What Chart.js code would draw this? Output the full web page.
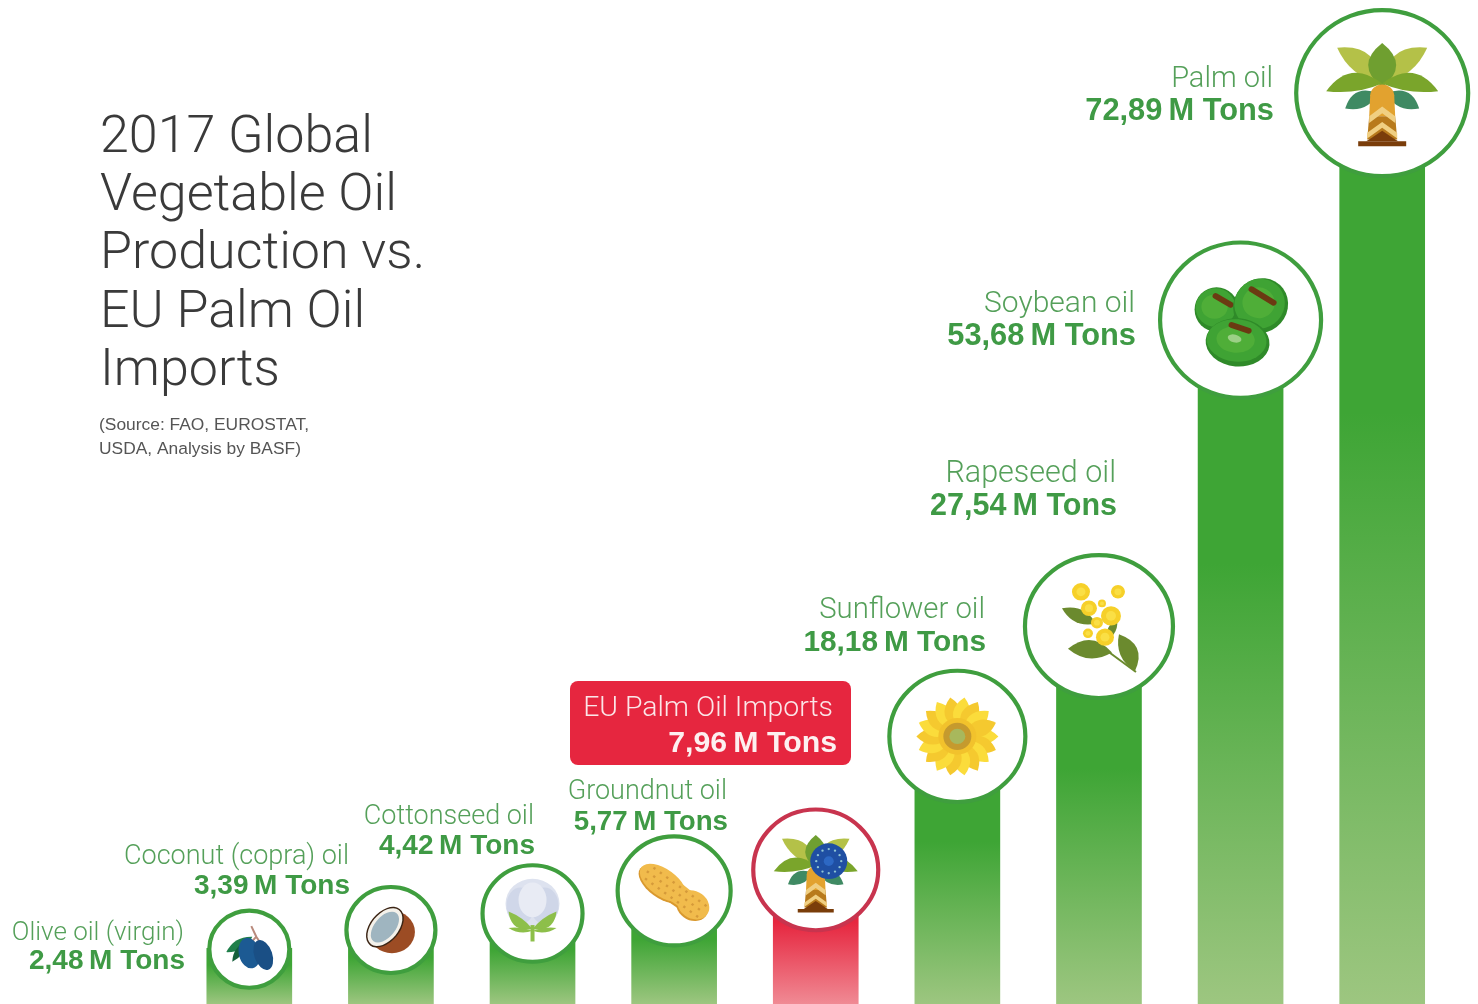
<!DOCTYPE html>
<html lang="en">
  <head>
    <meta charset="UTF-8">
    <title>2017 Global Vegetable Oil Production vs. EU Palm Oil Imports</title>
    <script src="https://cdn.jsdelivr.net/npm/chart.js"></script>
    <style>
      html, body { margin: 0; background: #fff; }
      canvas { display: block; }
    </style>
  </head>
  <body>
  <canvas id="chart" width="1478" height="1004"></canvas>
    <script>
    const categories = ['Olive oil (virgin)', 'Coconut (copra) oil', 'Cottonseed oil', 'Groundnut oil',
      'EU Palm Oil Imports', 'Sunflower oil', 'Rapeseed oil', 'Soybean oil', 'Palm oil'];
    const tons = [2.48, 3.39, 4.42, 5.77, 7.96, 18.18, 27.54, 53.68, 72.89];
    const titleLines = ['2017 Global', 'Vegetable Oil', 'Production vs.', 'EU Palm Oil', 'Imports'];
    const sourceLines = ['(Source: FAO, EUROSTAT,', 'USDA, Analysis by BASF)'];

    // badge layout, one entry per bar
    const badgeRadius = [40, 44.5, 50, 56.5, 62.5, 68, 74, 80.5, 86];
    const badgeLift = [-1, 8, 13, 20.5, 17, 36, 41, 54.6, 66.5];
    const labelRight = [184, 349, 534, 727, 833, 985, 1116, 1135, 1273];
    const labelBase = [940, 864, 824, 799, 716, 618, 482, 312, 87];
    const valueDrop = [29, 30, 30, 31, 36, 33, 33, 33, 33];
    const nameSize = [26, 27, 27, 27, 28.4, 29.3, 30.5, 30, 29];
    const valueSize = [28, 28, 28, 27.7, 30.3, 29.8, 30.5, 30.8, 30.8];
    const EU = 4;

    const formatTons = v => v.toFixed(2).replace('.', ',') + '\u2009M Tons';

    function ell(ctx, x, y, rx, ry, rot, fill) {
      ctx.beginPath();
      ctx.ellipse(x, y, rx, ry, (rot || 0) * Math.PI / 180, 0, Math.PI * 2);
      ctx.fillStyle = fill;
      ctx.fill();
    }
    function poly(ctx, fill, pts) {
      ctx.beginPath();
      pts.forEach((p, i) => i ? ctx.lineTo(p[0], p[1]) : ctx.moveTo(p[0], p[1]));
      ctx.closePath();
      ctx.fillStyle = fill;
      ctx.fill();
    }
    // pointed leaf between two points, w1 and w2 pull each edge outwards
    function leaf(ctx, x0, y0, x1, y1, w1, w2, fill) {
      const dx = x1 - x0, dy = y1 - y0, len = Math.hypot(dx, dy);
      const nx = -dy / len, ny = dx / len, mx = (x0 + x1) / 2, my = (y0 + y1) / 2;
      ctx.beginPath();
      ctx.moveTo(x0, y0);
      ctx.quadraticCurveTo(mx + nx * w1, my + ny * w1, x1, y1);
      ctx.quadraticCurveTo(mx - nx * w2, my - ny * w2, x0, y0);
      ctx.fillStyle = fill;
      ctx.fill();
    }

    function palmTree(ctx) {
      leaf(ctx, -2, -10, -45, -47, 30, 14, '#b4c148');
      leaf(ctx, 2, -10, 45, -47, -30, -14, '#b4c148');
      leaf(ctx, -4, 0, -37, 16, 20, 14, '#3f8a63');
      leaf(ctx, 4, 0, 37, 16, 14, 20, '#3f8a63');
      leaf(ctx, 0, -6, 0, -52, 28, 28, '#6f9f30');
      leaf(ctx, 0, -10, -56, -2, 30, 8, '#7aa52b');
      leaf(ctx, 0, -10, 56, -2, -30, -8, '#7aa52b');
      poly(ctx, '#e2a22f', [[-12, 2], [12, 2], [13, 24], [-13, 24]]);
      ctx.beginPath();
      ctx.arc(0, 3, 12, Math.PI, 0);
      ctx.fill();
      poly(ctx, '#b87a1c', [[-13, 24], [13, 24], [15, 48], [-15, 48]]);
      poly(ctx, '#f0cf82', [[-13, 24], [0, 14], [13, 24], [13, 31], [0, 21], [-13, 31]]);
      poly(ctx, '#f0cf82', [[-15, 41], [0, 30], [15, 41], [15, 47], [0, 36], [-15, 47]]);
      poly(ctx, '#7a3d0a', [[-10, 46], [0, 39], [10, 46], [16, 50], [-16, 50]]);
      poly(ctx, '#7a3d0a', [[-24, 50], [24, 50], [24, 55], [-24, 55]]);
    }

    const icons = [
      // olives
      ctx => {
        ctx.strokeStyle = '#b98a7c';
        ctx.lineWidth = 2;
        ctx.beginPath();
        ctx.moveTo(2, -24);
        ctx.lineTo(7, -13);
        ctx.lineTo(14, -2);
        ctx.moveTo(7, -13);
        ctx.lineTo(1, -6);
        ctx.stroke();
        leaf(ctx, 3, -13, -23, 3, 10, 10, '#1f7f4a');
        leaf(ctx, -3, -8, -17, 13, 8, 7, '#155f3a');
        ell(ctx, 0, 4, 10.5, 16, -12, '#1c5a93');
        ell(ctx, 14, 6, 9, 16, -18, '#1a4f85');
      },
      // coconut
      ctx => {
        ell(ctx, 1, 2, 23, 22, 0, '#9c4c24');
        ctx.save();
        ctx.translate(-6, -3);
        ctx.rotate(-52 * Math.PI / 180);
        ell(ctx, 0, 0, 24, 15, 0, '#3b2414');
        ell(ctx, 0, 0, 22.5, 13.5, 0, '#f4f1ea');
        ell(ctx, 0, 0, 18.5, 10.5, 0, '#9fb5c0');
        ctx.restore();
      },
      // cotton boll
      ctx => {
        ell(ctx, 0, -10, 27, 26, 0, '#dde2ef');
        ell(ctx, -12, -8, 14, 19, 0, '#d0d7e9');
        ell(ctx, 12, -8, 14, 19, 0, '#cfd6e8');
        ell(ctx, 0, -14, 14, 18, 0, '#e8ebf4');
        leaf(ctx, 0, 16, -24, -2, 4, 16, '#8dbf4a');
        leaf(ctx, 0, 16, 24, -2, 16, 4, '#8dbf4a');
        leaf(ctx, 0, 18, -24, 15, 3, 6, '#8dbf4a');
        leaf(ctx, 0, 18, 24, 15, 6, 3, '#8dbf4a');
        poly(ctx, '#8dbf4a', [[-2, 12], [2, 12], [2, 29], [-2, 29]]);
      },
      // peanut
      ctx => {
        ctx.save();
        ctx.rotate(37 * Math.PI / 180);
        for (const [off, fill] of [[2, '#d9992f'], [0, '#f1bb4c']]) {
          ell(ctx, -14, off, 27, 14, 0, fill);
          ell(ctx, 24, off, 17, 14, 0, fill);
          poly(ctx, fill, [[-10, off - 11], [16, off - 10], [16, off + 10], [-10, off + 11]]);
        }
        ctx.fillStyle = '#d59a3a';
        for (let x = -34; x <= 34; x += 8) {
          for (let y = -7; y <= 7; y += 7) {
            ctx.fillRect(x + (y % 2 ? 3 : 0), y - 1, 2.4, 2.4);
          }
        }
        ctx.restore();
      },
      // palm tree with the EU disc over it
      ctx => {
        ctx.save();
        ctx.translate(0, 3);
        ctx.scale(0.75, 0.75);
        palmTree(ctx);
        ctx.restore();
        ell(ctx, 13, -9, 18.5, 18.5, 0, '#1f4fa3');
        ell(ctx, 13, -9, 5, 5, 0, '#2d68c4');
        for (let i = 0; i < 12; i++) {
          const a = i * Math.PI / 6;
          ell(ctx, 13 + Math.cos(a) * 12.5, -9 + Math.sin(a) * 12.5, 1.2, 1.2, 0, '#8fc4d4');
        }
      },
      // sunflower
      ctx => {
        for (let i = 0; i < 18; i++) {
          ctx.save();
          ctx.rotate(i * 20 * Math.PI / 180);
          leaf(ctx, 8, 0, 41, 0, 17, 17, i % 2 ? '#f5c92f' : '#fbdc3b');
          ctx.restore();
        }
        ell(ctx, 0, 0, 19, 19, 0, '#f2c22c');
        ell(ctx, 0, 0, 14, 14, 0, '#c59a2e');
        ell(ctx, 0, 0, 8, 8, 0, '#a8b85c');
      },
      // rapeseed sprig
      ctx => {
        ctx.strokeStyle = '#6b8a2e';
        ctx.lineWidth = 2;
        ctx.beginPath();
        ctx.moveTo(4, 22);
        ctx.lineTo(37, 47);
        ctx.stroke();
        leaf(ctx, -37, -19, -3, -3, 14, 14, '#6b8a2e');
        leaf(ctx, -31, 23, 13, 27, 16, 22, '#6b8a2e');
        leaf(ctx, 20, 8, 36, 46, 14, 22, '#6b8a2e');
        leaf(ctx, 18, -8, 8, 14, 8, 8, '#6b8a2e');
        for (const [x, y, r] of [[-18, -36, 9], [19, -36, 7], [-10, -19, 8], [3, -24, 4],
            [12, -11, 10], [-2, -4, 6], [6, 11, 9], [-11, 7, 5]]) {
          ell(ctx, x, y, r, r, 0, '#f6d029');
          ell(ctx, x, y, r * 0.5, r * 0.5, 0, '#fadf45');
        }
      },
      // oil palm fruit
      ctx => {
        const fruit = (x, y, rx, ry, rot, slit) => {
          ell(ctx, x, y, rx, ry, rot, '#2f8a29');
          ell(ctx, x - 1, y - 2, rx - 2, ry - 3, rot, '#3fa334');
          ell(ctx, x - 2, y - 3, rx * 0.6, ry * 0.55, rot, '#4fae38');
          ctx.strokeStyle = '#6b3a12';
          ctx.lineWidth = 6;
          ctx.lineCap = 'round';
          ctx.beginPath();
          ctx.moveTo(slit[0], slit[1]);
          ctx.lineTo(slit[2], slit[3]);
          ctx.stroke();
          ctx.lineCap = 'butt';
        };
        fruit(-24, -11, 22, 23, 0, [-25, -25, -10, -16]);
        fruit(20, -15, 27, 29, 30, [11, -32, 33, -18]);
        fruit(-3, 23, 32, 25, 5, [-9, 5, 8, 11]);
        ell(ctx, -6, 19, 7, 4, 15, '#9cd086');
      },
      palmTree
    ];

    const badges = {
      id: 'badges',
      afterDatasetsDraw(chart) {
        const ctx = chart.ctx;
        const bars = chart.getDatasetMeta(0).data;

        bars.forEach((bar, i) => {
          const cy = bar.y - badgeLift[i];
          ctx.save();
          ctx.translate(bar.x, cy);
          ctx.scale(1, 0.965);
          ctx.beginPath();
          ctx.arc(0, 0, badgeRadius[i], 0, Math.PI * 2);
          ctx.fillStyle = '#fff';
          ctx.fill();
          ctx.lineWidth = 4.2;
          ctx.strokeStyle = i == EU ? '#c8344e' : '#3f9e3e';
          ctx.stroke();
          icons[i](ctx);
          ctx.restore();
        });

        // red box behind the EU figure
        ctx.beginPath();
        ctx.roundRect(570, 681, 281, 84, 8);
        ctx.fillStyle = '#e6263f';
        ctx.fill();

        ctx.textAlign = 'right';
        categories.forEach((name, i) => {
          ctx.font = '300 ' + nameSize[i] + 'px Roboto, "Liberation Sans", sans-serif';
          ctx.fillStyle = i == EU ? '#fbe6e8' : '#55a05a';
          ctx.fillText(name, labelRight[i], labelBase[i]);
          ctx.font = 'bold ' + valueSize[i] + 'px "Liberation Sans", sans-serif';
          ctx.fillStyle = i == EU ? '#fdf0f0' : '#3f9a45';
          ctx.fillText(formatTons(tons[i]), labelRight[i] + (i == EU ? 4 : 1), labelBase[i] + valueDrop[i]);
        });

        ctx.textAlign = 'left';
        ctx.fillStyle = '#3a3a3a';
        ctx.font = '300 52px Roboto, "Liberation Sans", sans-serif';
        titleLines.forEach((line, i) => ctx.fillText(line, 100, 152 + i * 58.2));
        ctx.fillStyle = '#555';
        ctx.font = '17.4px "Liberation Sans", sans-serif';
        sourceLines.forEach((line, i) => ctx.fillText(line, 99, 430 + i * 24));
      }
    };

    const axisMin = -2.5;
    const axisMax = 87.14;

    function barFill(c) {
      const chart = c.chart;
      if (!chart.chartArea || c.dataIndex === undefined) return '#3ea535';
      const top = chart.scales.y.getPixelForValue(tons[c.dataIndex]);
      const g = chart.ctx.createLinearGradient(0, top, 0, chart.chartArea.bottom);
      const eu = c.dataIndex == EU;
      g.addColorStop(0, eu ? '#e6263f' : '#3ea535');
      g.addColorStop(0.3, eu ? '#e6263f' : '#3ea535');
      g.addColorStop(1, eu ? '#f08a94' : '#9dc680');
      return g;
    }

    new Chart(document.getElementById('chart').getContext('2d'), {
      type: 'bar',
      data: {
        labels: categories,
        datasets: [{
          data: tons,
          base: axisMin,
          backgroundColor: barFill,
          barThickness: 85,
          borderWidth: 0
        }]
      },
      options: {
        responsive: false,
        animation: false,
        layout: { padding: { left: 178.5, right: 25 } },
        plugins: { legend: { display: false }, tooltip: { enabled: false } },
        scales: {
          x: { display: false },
          y: { display: false, min: axisMin, max: axisMax }
        }
      },
      plugins: [badges]
    });
    </script>
  </body>
</html>
